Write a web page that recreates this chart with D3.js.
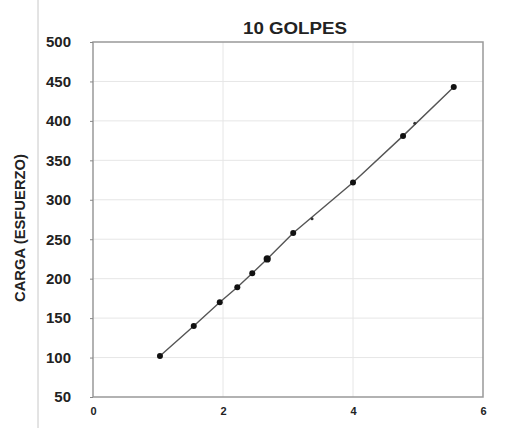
<!DOCTYPE html>
<html>
<head>
<meta charset="utf-8">
<script src="https://cdn.jsdelivr.net/npm/d3@7"></script>
<style>
  html, body { margin: 0; padding: 0; background: #fff; }
  svg { display: block; }
  text { font-family: "Liberation Sans", Arial, sans-serif; fill: #222; }
</style>
</head>
<body>
<svg id="chart" width="506" height="428"></svg>
<script>
// Ensayo de carga — 10 golpes
const golpes = [1.03, 1.55, 1.95, 2.22, 2.45, 2.68, 3.08, 4.0, 4.77, 5.55];
const carga  = [102, 140, 170, 189, 207, 225, 258, 322, 381, 443];
const golpesAux = [3.37, 4.95];
const cargaAux  = [276, 397];
const xTicks = [0, 2, 4, 6];
const yTicks = [50, 100, 150, 200, 250, 300, 350, 400, 450, 500];
const titulo = "10 GOLPES";
const ejeY = "CARGA (ESFUERZO)";

const svg = d3.select("#chart");
const m = { left: 93, right: 23, top: 42, bottom: 31 };
const W = 506, H = 428;

const x = d3.scaleLinear().domain([0, 6]).range([m.left, W - m.right]);
const y = d3.scaleLinear().domain([50, 500]).range([H - m.bottom, m.top]);

// outer guide line at the far left
svg.append("line")
  .attr("x1", 38).attr("x2", 38).attr("y1", 0).attr("y2", H)
  .attr("stroke", "#c8c8c8").attr("stroke-width", 1);

// grid
svg.append("g").selectAll("line").data(yTicks.slice(1, -1)).join("line")
  .attr("x1", x(0)).attr("x2", x(6))
  .attr("y1", d => y(d)).attr("y2", d => y(d))
  .attr("stroke", "#e6e6e6").attr("stroke-width", 1);
svg.append("g").selectAll("line").data(xTicks.slice(1, -1)).join("line")
  .attr("y1", y(50)).attr("y2", y(500))
  .attr("x1", d => x(d)).attr("x2", d => x(d))
  .attr("stroke", "#e6e6e6").attr("stroke-width", 1);

// frame
svg.append("rect")
  .attr("x", x(0)).attr("y", y(500))
  .attr("width", x(6) - x(0)).attr("height", y(50) - y(500))
  .attr("fill", "none").attr("stroke", "#999").attr("stroke-width", 1.5);

// axes
const yAxis = d3.axisLeft(y).tickValues(yTicks).tickSize(3).tickPadding(19);
const gy = svg.append("g").attr("transform", `translate(${x(0)},0)`).call(yAxis);
gy.select(".domain").remove();
gy.selectAll("line").attr("stroke", "#888");
gy.selectAll("text").style("font-size", "15px").style("font-weight", "bold")
  .attr("fill", "#222");

const xAxis = d3.axisBottom(x).tickValues(xTicks).tickFormat(d3.format("d"))
  .tickSize(0).tickPadding(10);
const gx = svg.append("g").attr("transform", `translate(0,${y(50)})`).call(xAxis);
gx.select(".domain").remove();
gx.selectAll("text").style("font-size", "11px").style("font-weight", "bold").attr("fill", "#111");

// title
svg.append("text")
  .attr("x", 295).attr("y", 34)
  .attr("text-anchor", "middle")
  .attr("textLength", 104).attr("lengthAdjust", "spacingAndGlyphs")
  .style("font-size", "16px").style("font-weight", "bold")
  .text(titulo);

// y axis title
svg.append("text")
  .attr("transform", `translate(25,${228}) rotate(-90)`)
  .attr("text-anchor", "middle")
  .attr("textLength", 148).attr("lengthAdjust", "spacingAndGlyphs")
  .style("font-size", "14px").style("font-weight", "bold")
  .text(ejeY);

// line through the points
const pts = golpes.map((g, i) => [g, carga[i]]);
svg.append("path")
  .datum(pts)
  .attr("fill", "none").attr("stroke", "#555").attr("stroke-width", 1.4)
  .attr("d", d3.line().x(d => x(d[0])).y(d => y(d[1])));

// markers
svg.append("g").selectAll("circle").data(pts).join("circle")
  .attr("cx", d => x(d[0])).attr("cy", d => y(d[1]))
  .attr("r", (d, i) => i === 5 ? 3.6 : 3)
  .attr("fill", "#111");

svg.append("g").selectAll("circle").data(golpesAux.map((g, i) => [g, cargaAux[i]])).join("circle")
  .attr("cx", d => x(d[0])).attr("cy", d => y(d[1]))
  .attr("r", 1.5)
  .attr("fill", "#333");
</script>
</body>
</html>
